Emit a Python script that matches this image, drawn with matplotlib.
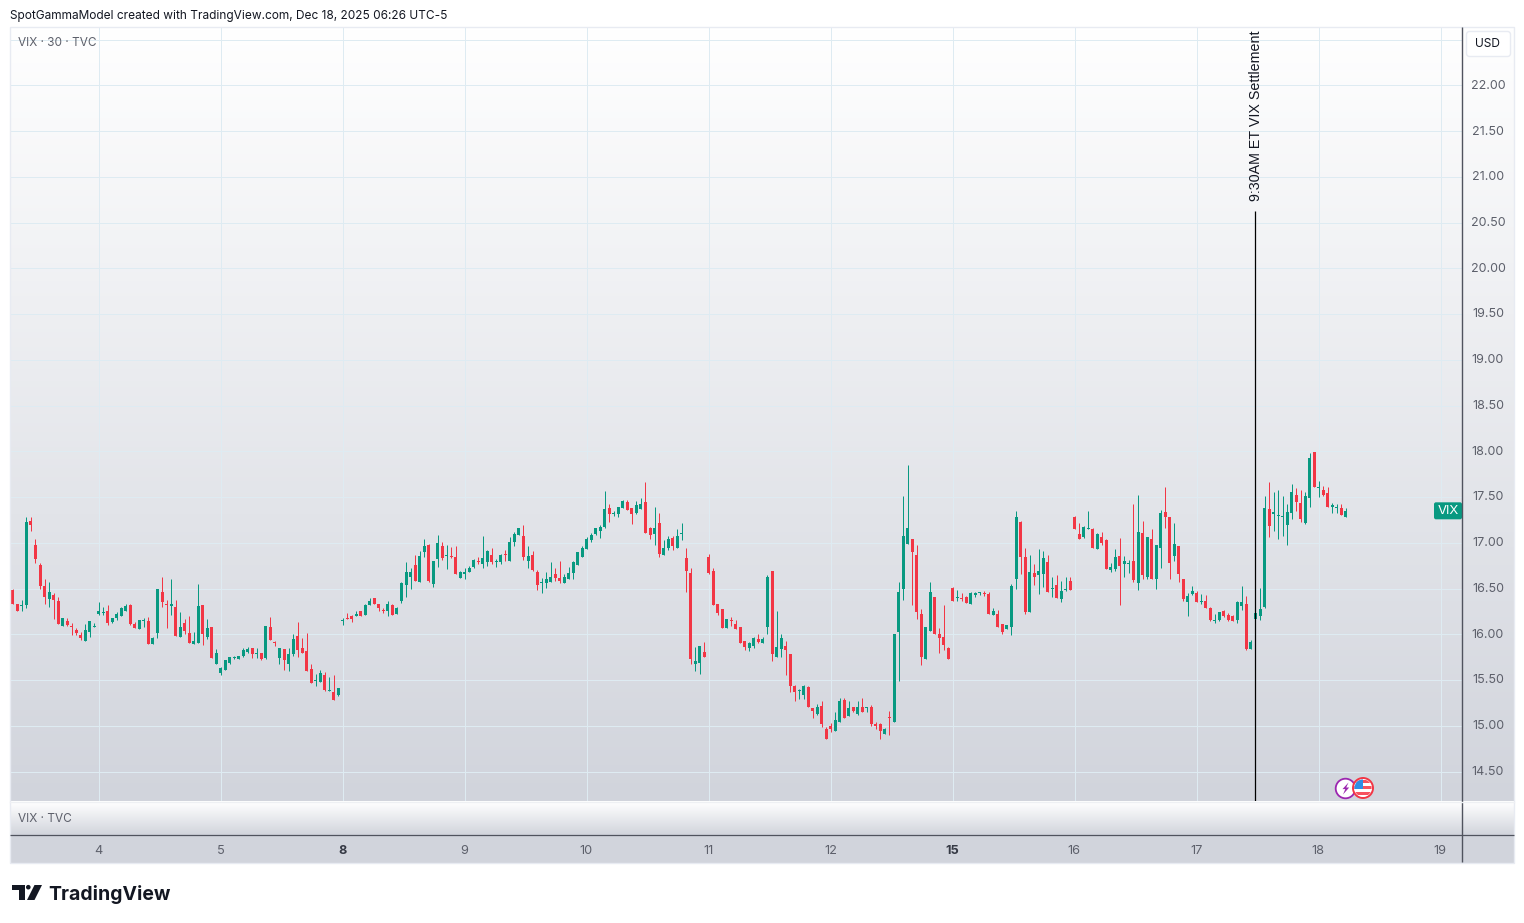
import numpy as np
import matplotlib
matplotlib.use("Agg")
import matplotlib.pyplot as plt
from matplotlib.patches import Rectangle, Circle, Polygon, FancyBboxPatch
from matplotlib.colors import LinearSegmentedColormap

# ---- data: 30-minute VIX candles (first bar is clipped by the left edge)
opens = [16.49,
 16.48,16.33,16.31,16.32,17.24,16.98,16.76,16.53,16.39,16.43,
 16.36,16.09,16.14,16.09,16.05,15.99,15.93,16.03,16.08,16.22,
 16.23,16.25,16.13,16.18,16.20,16.26,16.32,16.11,16.06,16.15,
 16.14,15.89,16.01,16.46,16.33,16.31,16.30,15.97,16.12,16.01,
 15.89,15.91,16.32,15.97,16.08,15.68,15.58,15.61,15.69,15.74,
 15.73,15.76,15.81,15.85,15.78,15.80,15.74,16.08,15.92,15.74,
 15.84,15.68,15.79,15.98,15.85,15.82,15.62,15.49,15.48,15.55,
 15.38,15.37,15.34,
 16.15,16.18,16.20,16.20,16.25,16.21,16.32,16.40,16.33,16.26,
 16.25,16.32,16.22,16.36,16.54,16.63,16.76,16.57,16.90,16.98,
 16.55,16.82,16.96,16.86,16.86,16.84,16.62,16.66,16.68,16.74,
 16.80,16.77,16.79,16.87,16.79,16.79,16.88,16.80,17.01,17.09,
 17.08,16.80,16.87,16.68,16.56,16.56,16.57,16.66,16.62,16.56,
 16.61,16.67,16.76,16.84,16.93,17.03,17.10,17.13,17.17,17.38,
 17.31,17.32,17.38,17.45,17.38,17.33,17.37,17.45,17.16,17.10,
 17.22,16.87,16.94,17.05,16.94,17.10,
 16.83,16.67,15.68,15.69,15.81,16.84,16.69,16.33,16.28,16.07,
 16.16,16.11,16.08,15.93,15.85,15.87,15.95,15.91,16.08,16.69,
 15.75,15.84,15.87,15.79,15.44,15.38,15.34,15.42,15.19,15.13,
 15.22,14.96,15.00,14.94,15.04,15.28,15.11,15.20,15.13,15.20,
 15.19,15.20,15.02,15.02,14.91,15.09,15.04,16.03,16.50,16.99,
 17.04,16.87,16.22,15.73,16.04,16.41,16.00,15.97,15.85,
 16.51,16.40,16.40,16.41,16.33,16.43,16.45,16.45,16.44,16.21,
 16.22,16.11,16.06,16.08,16.61,17.23,16.84,16.24,16.67,16.65,
 16.66,16.79,16.49,16.54,16.39,16.48,16.58,17.28,17.10,17.06,
 17.15,17.15,16.93,17.06,17.03,16.70,16.71,16.86,16.77,16.77,
 16.80,16.56,17.11,16.63,17.04,16.61,16.94,17.34,17.28,16.86,
 16.96,16.61,16.35,16.44,16.45,16.35,16.36,16.29,16.14,16.16,
 16.25,16.21,16.20,16.16,16.31,
 16.33,15.84,16.17,16.20,16.30,17.37,17.31,17.29,17.28,17.19,
 17.33,17.52,17.44,17.22,17.49,17.99,17.60,17.58,17.55,17.39,
 17.38,17.38,17.28]
highs = [16.50,
 16.50,16.33,16.37,17.28,17.28,17.04,16.78,16.60,16.57,16.45,
 16.41,16.18,16.18,16.12,16.07,16.03,16.11,16.14,16.12,16.35,
 16.30,16.32,16.18,16.24,16.30,16.33,16.33,16.13,16.16,16.18,
 16.19,15.97,16.50,16.63,16.37,16.60,16.38,16.24,16.17,16.20,
 16.03,16.55,16.32,16.17,16.08,15.84,15.64,15.72,15.75,15.76,
 15.76,15.85,15.86,15.85,15.85,15.80,16.09,16.19,15.93,15.85,
 15.84,15.85,16.00,16.13,15.96,16.01,15.68,15.57,15.61,15.59,
 15.53,15.55,15.41,
 16.18,16.23,16.21,16.26,16.25,16.33,16.40,16.40,16.33,16.29,
 16.36,16.33,16.30,16.57,16.79,16.72,16.87,16.91,17.04,16.99,
 16.80,17.09,17.01,16.98,16.95,16.97,16.69,16.72,16.75,16.82,
 16.84,17.08,16.92,16.94,16.82,16.88,16.92,17.06,17.12,17.16,
 17.20,16.96,16.91,16.70,16.62,16.68,16.79,16.72,16.80,16.66,
 16.74,16.80,16.90,16.96,17.06,17.11,17.16,17.19,17.57,17.43,
 17.35,17.39,17.47,17.47,17.38,17.46,17.49,17.66,17.17,17.39,
 17.33,17.03,17.07,17.07,17.15,17.22,
 16.94,16.73,15.86,15.87,15.92,16.88,16.72,16.33,16.28,16.17,
 16.19,16.16,16.08,15.93,15.92,15.97,16.00,15.97,16.65,16.69,
 16.26,16.00,15.93,15.79,15.45,15.40,15.45,15.43,15.19,15.24,
 15.27,14.99,15.03,15.15,15.30,15.30,15.27,15.20,15.27,15.30,
 15.20,15.23,15.04,15.03,14.98,15.16,16.00,16.57,17.51,17.85,
 17.04,16.98,16.28,16.08,16.57,16.41,16.07,16.32,15.86,
 16.52,16.48,16.45,16.42,16.46,16.46,16.46,16.47,16.46,16.29,
 16.27,16.11,16.10,16.55,17.35,17.24,16.94,16.87,16.77,16.93,
 16.91,16.87,16.63,16.65,16.58,16.63,16.63,17.29,17.22,17.18,
 17.35,17.16,17.11,17.12,17.04,16.78,16.93,17.05,16.86,16.81,
 17.42,17.52,17.24,17.06,17.15,16.98,17.36,17.61,17.28,17.22,
 16.96,16.61,16.45,16.53,16.47,16.44,16.43,16.30,16.22,16.24,
 16.27,16.23,16.21,16.36,16.53,
 16.42,15.94,16.76,16.51,17.51,17.66,17.56,17.58,17.51,17.42,
 17.64,17.60,17.58,17.56,17.98,17.99,17.68,17.62,17.61,17.44,
 17.43,17.42,17.38]
lows = [16.46,
 16.33,16.25,16.25,16.29,17.13,16.78,16.50,16.33,16.30,16.17,
 16.11,16.09,16.09,15.99,15.99,15.94,15.93,15.97,16.08,16.21,
 16.21,16.10,16.12,16.16,16.20,16.26,16.10,16.07,16.06,16.08,
 15.89,15.89,15.96,16.30,16.07,16.21,15.98,15.97,16.00,15.91,
 15.89,15.91,15.88,15.95,15.74,15.68,15.56,15.61,15.67,15.73,
 15.73,15.75,15.80,15.74,15.74,15.72,15.73,15.94,15.87,15.67,
 15.61,15.60,15.76,15.75,15.80,15.60,15.47,15.44,15.48,15.38,
 15.38,15.28,15.33,
 16.10,16.17,16.13,16.20,16.20,16.21,16.32,16.33,16.26,16.23,
 16.20,16.21,16.22,16.34,16.41,16.49,16.58,16.57,16.84,16.57,
 16.52,16.74,16.81,16.71,16.83,16.66,16.62,16.61,16.68,16.72,
 16.77,16.73,16.75,16.77,16.74,16.77,16.80,16.80,16.97,17.09,
 16.81,16.73,16.69,16.48,16.45,16.51,16.57,16.58,16.56,16.56,
 16.61,16.60,16.76,16.84,16.93,17.01,17.09,17.05,17.16,17.23,
 17.29,17.28,17.38,17.36,17.21,17.31,17.37,17.11,17.04,16.98,
 16.84,16.87,16.92,16.92,16.94,17.03,
 16.46,15.67,15.60,15.57,15.75,16.66,16.32,16.21,16.07,16.07,
 16.09,16.06,15.90,15.83,15.82,15.85,15.91,15.91,16.00,15.71,
 15.75,15.75,15.55,15.37,15.27,15.29,15.29,15.20,15.08,15.12,
 14.99,14.85,14.93,14.94,15.04,15.08,15.11,15.15,15.12,15.15,
 15.15,15.00,14.97,14.86,14.91,14.90,15.04,15.49,16.38,16.99,
 16.32,16.17,15.66,15.73,16.04,16.00,15.80,15.83,15.73,
 16.36,16.36,16.36,16.34,16.33,16.41,16.43,16.42,16.22,16.21,
 16.08,16.00,16.06,15.99,16.50,16.66,16.22,16.24,16.54,16.44,
 16.52,16.46,16.41,16.40,16.35,16.47,16.48,17.15,17.04,17.05,
 17.15,16.94,16.93,16.98,16.71,16.68,16.69,16.32,16.63,16.67,
 16.57,16.48,16.60,16.61,16.61,16.49,16.73,17.16,16.60,16.80,
 16.57,16.36,16.20,16.43,16.35,16.33,16.29,16.14,16.12,16.14,
 16.19,16.15,16.15,16.12,16.27,
 15.83,15.84,16.02,16.16,16.29,17.06,17.13,17.04,17.08,16.98,
 17.26,17.35,17.23,17.21,17.39,17.61,17.50,17.51,17.39,17.33,
 17.33,17.30,17.28]
closes = [16.46,
 16.33,16.25,16.32,17.23,17.19,16.82,16.53,16.41,16.46,16.38,
 16.11,16.18,16.10,16.08,16.01,15.96,16.05,16.14,16.09,16.25,
 16.24,16.12,16.18,16.22,16.29,16.31,16.11,16.07,16.16,16.16,
 15.89,15.96,16.49,16.35,16.32,16.33,15.98,16.08,16.04,15.91,
 15.93,16.31,16.00,16.07,15.74,15.80,15.63,15.72,15.75,15.75,
 15.76,15.83,15.84,15.78,15.79,15.73,16.09,15.94,15.91,15.85,
 15.72,15.79,15.95,15.83,15.80,15.60,15.47,15.50,15.58,15.39,
 15.39,15.28,15.41,
 16.16,16.17,16.17,16.22,16.20,16.32,16.36,16.33,16.29,16.25,
 16.33,16.21,16.29,16.56,16.68,16.68,16.58,16.86,16.97,16.58,
 16.80,17.00,16.83,16.87,16.85,16.66,16.68,16.68,16.72,16.81,
 16.79,16.83,16.91,16.79,16.80,16.87,16.87,17.01,17.10,17.16,
 16.84,16.86,16.70,16.54,16.57,16.60,16.63,16.62,16.58,16.63,
 16.67,16.79,16.90,16.94,17.04,17.09,17.16,17.17,17.37,17.31,
 17.32,17.39,17.46,17.36,17.32,17.41,17.43,17.11,17.09,17.16,
 16.88,16.94,17.04,16.96,17.08,17.11,
 16.69,15.73,15.71,15.87,15.75,16.67,16.32,16.23,16.07,16.17,
 16.15,16.06,15.91,15.86,15.90,15.96,15.92,15.95,16.63,15.79,
 15.86,15.96,15.83,15.44,15.37,15.39,15.43,15.20,15.16,15.21,
 15.02,14.85,14.97,15.06,15.27,15.08,15.19,15.16,15.21,15.15,
 15.20,15.02,15.00,14.94,14.96,15.08,16.00,16.46,17.07,17.16,
 16.90,16.24,15.75,16.08,16.46,16.00,15.96,15.88,15.73,
 16.36,16.41,16.39,16.34,16.45,16.45,16.46,16.44,16.22,16.25,
 16.08,16.03,16.10,16.53,17.28,16.84,16.24,16.68,16.63,16.69,
 16.83,16.46,16.50,16.40,16.47,16.49,16.48,17.15,17.04,17.17,
 17.16,16.94,17.10,17.00,16.71,16.74,16.85,16.75,16.80,16.78,
 16.59,17.12,16.65,17.06,16.61,16.98,17.33,17.28,16.78,16.99,
 16.66,16.39,16.42,16.47,16.35,16.36,16.29,16.16,16.15,16.24,
 16.20,16.16,16.15,16.35,16.35,
 15.84,15.92,16.23,16.28,17.38,17.18,17.34,17.30,17.29,17.34,
 17.56,17.45,17.26,17.51,17.93,17.61,17.61,17.52,17.39,17.41,
 17.39,17.30,17.35]

day_labels = ['4','5','8','9','10','11','12','15','16','17','18','19']
bold_days = ['8','15']
first_day_bar = 19
bars_per_day = 27
price_ticks = [14.5,15,15.5,16,16.5,17,17.5,18,18.5,19,19.5,20,20.5,21,21.5,22]
extra_grid = [22.5]
settlement_bar = 275
settlement_top = 20.63
last_price = 17.35

W, H = 1524, 923
UP, DOWN = '#089981', '#F23645'
GRID = '#deebf2'
AXC = '#50535e'
LBL = '#5d606b'
FONT = 'Inter'
X0 = 12.9
plt.rcParams['font.family'] = [FONT, 'DejaVu Sans']

fig = plt.figure(figsize=(W/100, H/100), dpi=100, facecolor='white')

def axpx(x0, y0, x1, y1, **kw):
    return fig.add_axes([x0/W, 1-y1/H, (x1-x0)/W, (y1-y0)/H], **kw)

cmap = LinearSegmentedColormap.from_list('g', ['#ffffff', '#d1d4dc'])
grad = np.linspace(0, 1, 256).reshape(-1, 1)

bg = axpx(0, 0, W, H, zorder=0)
bg.set_xlim(0, W); bg.set_ylim(H, 0); bg.axis('off')
bg.imshow(grad, cmap=cmap, extent=(10, 1514, 801, 27), aspect='auto', vmin=0, vmax=1)
bg.imshow(grad, cmap=cmap, extent=(10, 1514, 835, 802), aspect='auto', vmin=0, vmax=1)
bg.add_patch(Rectangle((10, 835), 1504, 27.5, fc='#d1d4dc', ec='none'))
bg.set_xlim(0, W); bg.set_ylim(H, 0)

# main price pane
px_per_unit = 91.47
step = 122/bars_per_day
ax = axpx(10, 27, 1462, 801, zorder=1, facecolor='none')
ax.set_xlim((10-X0)/step, (1462-X0)/step)
ax.set_ylim(14.5-(801-771.5)/px_per_unit, 22+(85.5-27)/px_per_unit)
ax.axis('off')

xs = np.arange(len(opens)) - 1
o, h, l, c = map(np.array, (opens, highs, lows, closes))
cols = np.where(c >= o, UP, DOWN)

day_bars = [first_day_bar + bars_per_day*i for i in range(len(day_labels))]
ax.hlines(price_ticks + extra_grid, *ax.get_xlim(), color=GRID, lw=0.72, zorder=1)
ax.vlines(day_bars, *ax.get_ylim(), color=GRID, lw=0.72, zorder=1)

ax.vlines(xs, l, h, colors=cols, lw=0.72, zorder=3)
ax.bar(xs, np.maximum(np.abs(c-o), 0.011), bottom=np.minimum(o, c), width=3/step,
       color=cols, lw=0, zorder=4, antialiased=False)

ax.vlines(settlement_bar, ax.get_ylim()[0], settlement_top, color='#000000', lw=0.9, zorder=5)
ax.annotate('9:30AM ET VIX Settlement', xy=(settlement_bar, settlement_top), xytext=(0.2, 6.8),
            textcoords='offset points', rotation=90, ha='center', va='bottom', fontsize=10.3,
            color='#131722', family=['Liberation Sans'], zorder=6)

# overlay for chart furniture
ov = axpx(0, 0, W, H, zorder=2, facecolor='none')
ov.set_xlim(0, W); ov.set_ylim(H, 0); ov.axis('off')
ov.add_patch(Rectangle((10, 27), 1504, 835.5, fc='none', ec='#e8ebf2', lw=1))
ov.plot([1462, 1462], [27, 862], color=AXC, lw=1.0, solid_capstyle='butt')
ov.plot([10, 1514], [835.0, 835.0], color=AXC, lw=0.9, solid_capstyle='butt')
ov.plot([10, 1514], [801.5, 801.5], color='#eef0f3', lw=1.0)

def price_px(p):
    return 771.5 - (p-14.5)*px_per_unit

for p in price_ticks:
    ov.text(1488, price_px(p)+0.3, f'{p:.2f}', ha='center', va='center', fontsize=9.0, color=LBL)

for lab, b in zip(day_labels, day_bars):
    bold = lab in bold_days
    ov.text(X0+b*step-0.4, 851, lab, ha='center', va='center', fontsize=9.2,
            color='#363a45' if bold else LBL, weight='bold' if bold else 'normal')

ov.text(10, 16, 'SpotGammaModel created with TradingView.com, Dec 18, 2025 06:26 UTC-5',
        ha='left', va='center', fontsize=8.55, color='#131722')
ov.text(18, 43, 'VIX · 30 · TVC', ha='left', va='center', fontsize=8.5, color=LBL)
ov.text(18, 818.5, 'VIX · TVC', ha='left', va='center', fontsize=8.5, color=LBL)

# USD box
ov.add_patch(FancyBboxPatch((1466.5, 31.5), 44, 25, boxstyle='round,pad=0,rounding_size=3',
                            fc='white', ec='#e8ebf2', lw=1))
ov.text(1488, 44, 'USD', ha='center', va='center', fontsize=8.6, color='#131722')

# last price tag
yl = price_px(last_price)
ov.add_patch(FancyBboxPatch((1434, yl-8.5), 28, 17, boxstyle='round,pad=0,rounding_size=2',
                            fc=UP, ec='none'))
ov.text(1448, yl+0.3, 'VIX', ha='center', va='center', fontsize=9.4, color='white')

# event icons
ic = Circle((1345.5, 788.5), 9.8, fc='white', ec='#9c27b0', lw=1.3, zorder=5)
ov.add_patch(ic)
ov.add_patch(Polygon([(1348.5, 782.5), (1342.5, 789.1), (1345.3, 789.1), (1343, 794.5),
                      (1349.2, 787.5), (1346.2, 787.5)], fc='#9c27b0', ec='none', zorder=6))
fc = Circle((1363, 788), 10, fc='white', ec='#f23645', lw=1.4, zorder=7)
ov.add_patch(fc)
clipc = Circle((1363, 788), 8.6, transform=ov.transData)
for yy, col in [(779.5, '#f7525f'), (782.5, 'white'), (785.5, '#f7525f'),
                (788.5, 'white'), (791.5, '#f7525f'), (794.5, 'white')]:
    r = Rectangle((1353, yy), 20, 3, fc=col, ec='none', zorder=8)
    ov.add_patch(r); r.set_clip_path(clipc)
r = Rectangle((1353, 779), 9.5, 10, fc='#2f8fe6', ec='none', zorder=9)
ov.add_patch(r); r.set_clip_path(clipc)

# TradingView logo
LOGO = '#131722'
ov.add_patch(Polygon([(12, 885), (25, 885), (25, 900), (19, 900), (19, 889.5), (12, 889.5)],
                     fc=LOGO, ec='none'))
ov.add_patch(Circle((28.3, 887.2), 2.3, fc=LOGO, ec='none'))
ov.add_patch(Polygon([(34.5, 885), (42, 885), (34.5, 900), (27, 900)], fc=LOGO, ec='none'))
ov.text(48.5, 894, 'TradingView', ha='left', va='center', fontsize=14.0, weight='bold', color=LOGO)

fig.savefig('out.png', dpi=100, facecolor='white')
